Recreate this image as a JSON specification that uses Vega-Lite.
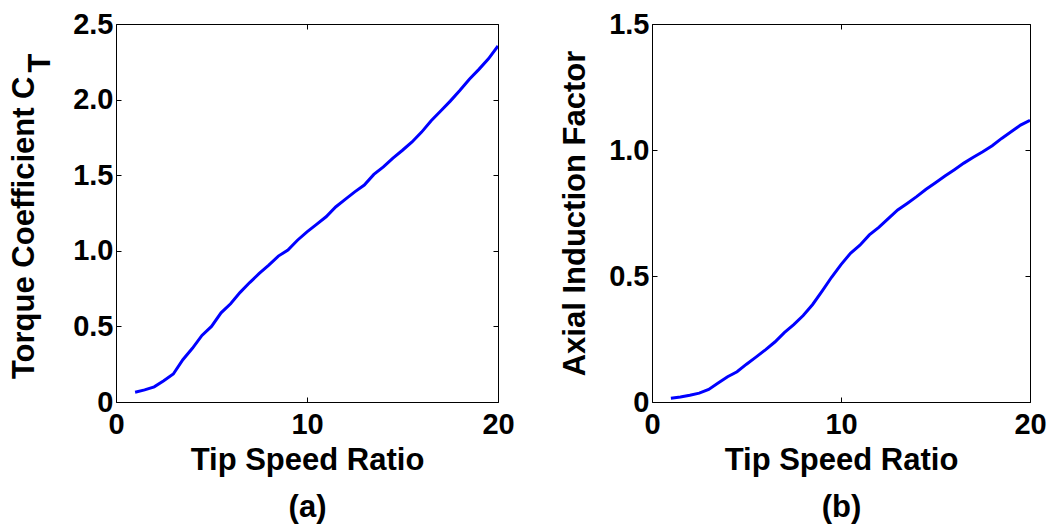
{
  "$schema": "https://vega.github.io/schema/vega-lite/v6.json",
  "background": "white",
  "padding": {"left": 8, "top": 9, "right": 5, "bottom": 5},
  "spacing": 154,
  "bounds": "flush",
  "datasets": {
    "ct": [
      {"tsr": 1, "v": 0.065}, {"tsr": 1.5, "v": 0.08}, {"tsr": 2, "v": 0.1}, {"tsr": 2.5, "v": 0.14},
      {"tsr": 3, "v": 0.185}, {"tsr": 3.5, "v": 0.28}, {"tsr": 4, "v": 0.355}, {"tsr": 4.5, "v": 0.44},
      {"tsr": 5, "v": 0.5}, {"tsr": 5.5, "v": 0.59}, {"tsr": 6, "v": 0.65}, {"tsr": 6.5, "v": 0.725},
      {"tsr": 7, "v": 0.79}, {"tsr": 7.5, "v": 0.85}, {"tsr": 8, "v": 0.905}, {"tsr": 8.5, "v": 0.965},
      {"tsr": 9, "v": 1.005}, {"tsr": 9.5, "v": 1.07}, {"tsr": 10, "v": 1.125}, {"tsr": 10.5, "v": 1.175},
      {"tsr": 11, "v": 1.225}, {"tsr": 11.5, "v": 1.29}, {"tsr": 12, "v": 1.34}, {"tsr": 12.5, "v": 1.39},
      {"tsr": 13, "v": 1.435}, {"tsr": 13.5, "v": 1.505}, {"tsr": 14, "v": 1.555}, {"tsr": 14.5, "v": 1.613},
      {"tsr": 15, "v": 1.665}, {"tsr": 15.5, "v": 1.72}, {"tsr": 16, "v": 1.785}, {"tsr": 16.5, "v": 1.86},
      {"tsr": 17, "v": 1.925}, {"tsr": 17.5, "v": 1.99}, {"tsr": 18, "v": 2.06}, {"tsr": 18.5, "v": 2.135},
      {"tsr": 19, "v": 2.2}, {"tsr": 19.5, "v": 2.27}, {"tsr": 20, "v": 2.355}
    ],
    "aif": [
      {"tsr": 1, "v": 0.015}, {"tsr": 1.5, "v": 0.02}, {"tsr": 2, "v": 0.027}, {"tsr": 2.5, "v": 0.035},
      {"tsr": 3, "v": 0.05}, {"tsr": 3.5, "v": 0.075}, {"tsr": 4, "v": 0.1}, {"tsr": 4.5, "v": 0.12},
      {"tsr": 5, "v": 0.15}, {"tsr": 5.5, "v": 0.178}, {"tsr": 6, "v": 0.207}, {"tsr": 6.5, "v": 0.238},
      {"tsr": 7, "v": 0.275}, {"tsr": 7.5, "v": 0.307}, {"tsr": 8, "v": 0.343}, {"tsr": 8.5, "v": 0.387},
      {"tsr": 9, "v": 0.44}, {"tsr": 9.5, "v": 0.495}, {"tsr": 10, "v": 0.545}, {"tsr": 10.5, "v": 0.59},
      {"tsr": 11, "v": 0.622}, {"tsr": 11.5, "v": 0.663}, {"tsr": 12, "v": 0.693}, {"tsr": 12.5, "v": 0.728},
      {"tsr": 13, "v": 0.762}, {"tsr": 13.5, "v": 0.788}, {"tsr": 14, "v": 0.815}, {"tsr": 14.5, "v": 0.844},
      {"tsr": 15, "v": 0.87}, {"tsr": 15.5, "v": 0.897}, {"tsr": 16, "v": 0.922}, {"tsr": 16.5, "v": 0.948},
      {"tsr": 17, "v": 0.971}, {"tsr": 17.5, "v": 0.993}, {"tsr": 18, "v": 1.017}, {"tsr": 18.5, "v": 1.046},
      {"tsr": 19, "v": 1.072}, {"tsr": 19.5, "v": 1.099}, {"tsr": 20, "v": 1.118}
    ]
  },
  "hconcat": [
    {
      "width": 382,
      "height": 378,
      "data": {"name": "ct"},
      "resolve": {"axis": {"x": "independent", "y": "independent"}},
      "layer": [
        {
          "mark": {"type": "line", "color": "#0000ff", "strokeWidth": 3, "clip": true},
          "encoding": {
            "x": {"field": "tsr", "type": "quantitative", "scale": {"domain": [0, 20], "nice": false, "zero": false},
              "axis": {"orient": "bottom", "values": [0, 10, 20], "format": "d", "title": ["Tip Speed Ratio", "(a)"], "titleLineHeight": 47, "titlePadding": 6, "labelPadding": 13}},
            "y": {"field": "v", "type": "quantitative", "scale": {"domain": [0, 2.5], "nice": false, "zero": false},
              "axis": {"orient": "left", "values": [0, 0.5, 1, 1.5, 2, 2.5], "labelExpr": "datum.value == 0 ? '0' : format(datum.value, '.1f')",
                "title": ["Torque Coefficient C\u2800", "T"], "titleLineHeight": 16, "titleAlign": "right", "titleY": 29, "titlePadding": 16, "labelPadding": 8}}
          }
        },
        {
          "mark": {"type": "line", "opacity": 0},
          "encoding": {
            "x": {"field": "tsr", "type": "quantitative", "axis": {"orient": "top", "values": [0, 10, 20], "labels": false, "title": null}},
            "y": {"field": "v", "type": "quantitative", "axis": {"orient": "right", "values": [0, 0.5, 1, 1.5, 2, 2.5], "labels": false, "title": null}}
          }
        }
      ]
    },
    {
      "width": 378,
      "height": 378,
      "data": {"name": "aif"},
      "resolve": {"axis": {"x": "independent", "y": "independent"}},
      "layer": [
        {
          "mark": {"type": "line", "color": "#0000ff", "strokeWidth": 3, "clip": true},
          "encoding": {
            "x": {"field": "tsr", "type": "quantitative", "scale": {"domain": [0, 20], "nice": false, "zero": false},
              "axis": {"orient": "bottom", "values": [0, 10, 20], "format": "d", "title": ["Tip Speed Ratio", "(b)"], "titleLineHeight": 47, "titlePadding": 6, "labelPadding": 13}},
            "y": {"field": "v", "type": "quantitative", "scale": {"domain": [0, 1.5], "nice": false, "zero": false},
              "axis": {"orient": "left", "values": [0, 0.5, 1, 1.5], "labelExpr": "datum.value == 0 ? '0' : format(datum.value, '.1f')",
                "title": "Axial Induction Factor", "titlePadding": 17, "labelPadding": 8}}
          }
        },
        {
          "mark": {"type": "line", "opacity": 0},
          "encoding": {
            "x": {"field": "tsr", "type": "quantitative", "axis": {"orient": "top", "values": [0, 10, 20], "labels": false, "title": null}},
            "y": {"field": "v", "type": "quantitative", "axis": {"orient": "right", "values": [0, 0.5, 1, 1.5], "labels": false, "title": null}}
          }
        }
      ]
    }
  ],
  "config": {
    "font": "Liberation Sans",
    "view": {"stroke": "black", "strokeWidth": 1},
    "axis": {
      "grid": false,
      "domain": false,
      "ticks": true,
      "tickColor": "black",
      "tickSize": -5,
      "tickWidth": 1,
      "labelFont": "Liberation Sans",
      "labelFontSize": 29,
      "labelFontWeight": "bold",
      "labelColor": "black",
      "labelFlush": false,
      "labelBound": false,
      "labelOverlap": false,
      "titleFont": "Liberation Sans",
      "titleFontSize": 31,
      "titleFontWeight": "bold",
      "titleColor": "black"
    }
  }
}
